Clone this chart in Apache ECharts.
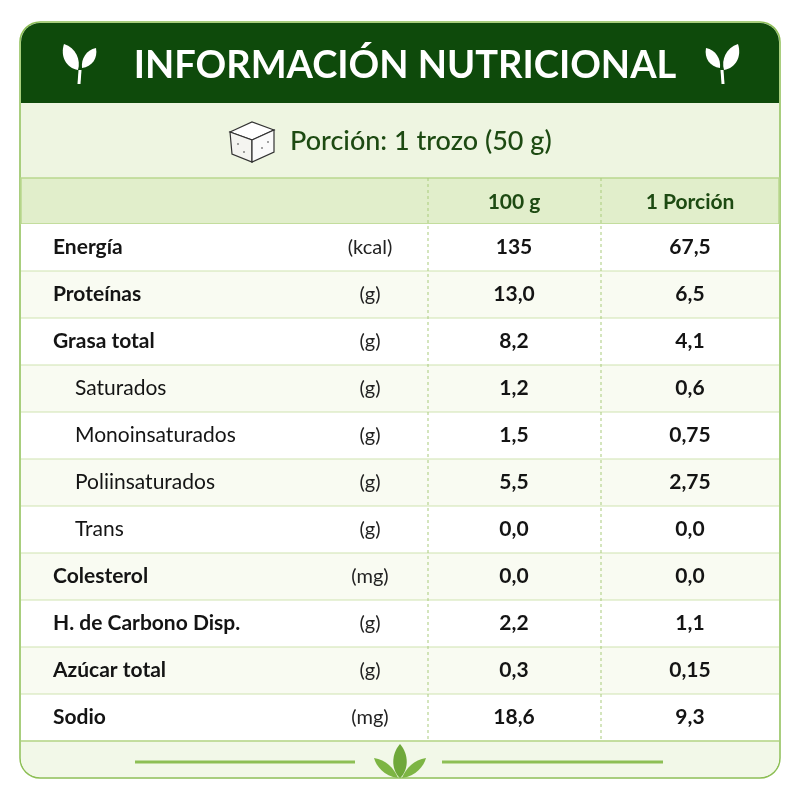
<!DOCTYPE html>
<html><head><meta charset="utf-8">
<script src="https://cdn.jsdelivr.net/npm/echarts@6/dist/echarts.min.js"></script>
<style>html,body{margin:0;background:#fff}#c{width:800px;height:800px}</style>
</head><body><div id="c"></div>
<script>
const nutrients = ['Energía','Proteínas','Grasa total','Saturados','Monoinsaturados','Poliinsaturados','Trans','Colesterol','H. de Carbono Disp.','Azúcar total','Sodio'];
const units = ['(kcal)','(g)','(g)','(g)','(g)','(g)','(g)','(mg)','(g)','(g)','(mg)'];
const per100 = ['135','13,0','8,2','1,2','1,5','5,5','0,0','0,0','2,2','0,3','18,6'];
const perPortion = ['67,5','6,5','4,1','0,6','0,75','2,75','0,0','0,0','1,1','0,15','9,3'];
const isSub = [0,0,0,1,1,1,1,0,0,0,0];
const colHeaders = ['100 g','1 Porción'];
const title = 'INFORMACIÓN NUTRICIONAL';
const portion = 'Porción: 1 trozo (50 g)';

const F = 'Lato, "Open Sans", sans-serif';
const chart = echarts.init(document.getElementById('c'));
function sprout(x,y,flip){
  const s = flip?-1:1;
  return {type:'group',x:x,y:y,scaleX:s,children:[
    {type:'path',shape:{pathData:'M0,0 C-12,-2 -18,-14 -14,-26 C-2,-22 3,-10 0,0 Z'},style:{fill:'#fff'},x:-2,y:-2},
    {type:'path',shape:{pathData:'M0,0 C10,-1 16,-10 14,-20 C4,-18 -1,-9 0,0 Z'},style:{fill:'#fff'},x:2,y:-4},
    {type:'line',shape:{x1:0,y1:-2,x2:-1,y2:12},style:{stroke:'#fff',lineWidth:3}}
  ]};
}
chart.setOption({
  animation:false,
  grid:{left:20,right:20,top:224,bottom:59},
  xAxis:{type:'value',min:0,max:760,show:false},
  yAxis:{type:'category',data:nutrients,inverse:true,show:false},
  graphic:[
    {type:'rect',shape:{x:20,y:22,width:760,height:756,r:20},style:{fill:'#fbfdf6',stroke:'#8dbf55',lineWidth:1.5},z:-10},
    {type:'rect',shape:{x:21,y:23,width:758,height:80,r:[19,19,0,0]},style:{fill:'#0e4a0b'},z:-9},
    {type:'rect',shape:{x:21,y:103,width:758,height:75},style:{fill:'#eef5e1'},z:-9},
    {type:'rect',shape:{x:21,y:178,width:758,height:46},style:{fill:'#e1eecb',stroke:'#b9d78e',lineWidth:1.5},z:-9},
    {type:'rect',shape:{x:21,y:741,width:758,height:36,r:[0,0,19,19]},style:{fill:'#f2f8e8'},z:-9},
    {type:'line',shape:{x1:21,y1:741,x2:779,y2:741},style:{stroke:'#b9d78e',lineWidth:1.5},z:5},
    {type:'text',style:{text:title,x:405,y:66,align:'center',verticalAlign:'middle',font:'bold 38px '+F,fill:'#fff'}},
    {type:'group',x:230,y:122,children:[
      {type:'polygon',shape:{points:[[0,10],[22,0],[44,8],[22,18]]},style:{fill:'#fff',stroke:'#333',lineWidth:1.2}},
      {type:'polygon',shape:{points:[[0,10],[22,18],[22,40],[2,32]]},style:{fill:'#f4f4f0',stroke:'#333',lineWidth:1.2}},
      {type:'polygon',shape:{points:[[22,18],[44,8],[44,30],[22,40]]},style:{fill:'#fafafa',stroke:'#333',lineWidth:1.2}},
      {type:'circle',shape:{cx:8,cy:22,r:0.8},style:{fill:'#333'}},
      {type:'circle',shape:{cx:14,cy:30,r:0.8},style:{fill:'#333'}},
      {type:'circle',shape:{cx:32,cy:26,r:0.8},style:{fill:'#333'}},
      {type:'circle',shape:{cx:38,cy:20,r:0.8},style:{fill:'#333'}}
    ]},
    {type:'text',style:{text:portion,x:290,y:141,verticalAlign:'middle',font:'500 27px '+F,fill:'#1d4a12'}},
    {type:'line',shape:{x1:428,y1:178,x2:428,y2:741},style:{stroke:'#a9cc7c',lineWidth:1,lineDash:[3,3]},z:5},
    {type:'line',shape:{x1:601,y1:178,x2:601,y2:741},style:{stroke:'#a9cc7c',lineWidth:1,lineDash:[3,3]},z:5},
    {type:'text',style:{text:colHeaders[0],x:514,y:202,align:'center',verticalAlign:'middle',font:'bold 21px '+F,fill:'#1d4a12'}},
    {type:'text',style:{text:colHeaders[1],x:690,y:202,align:'center',verticalAlign:'middle',font:'bold 21px '+F,fill:'#1d4a12'}},
    {type:'line',shape:{x1:135,y1:762,x2:355,y2:762},style:{stroke:'#8dbf55',lineWidth:3}},
    {type:'line',shape:{x1:442,y1:762,x2:663,y2:762},style:{stroke:'#8dbf55',lineWidth:3}}
  ],
  series:[{
    type:'custom',
    data:nutrients.map((n,i)=>[0,i]),
    renderItem:function(params,api){
      const i=params.dataIndex;
      const c=api.coord([0,i]);
      const h=api.size([0,1])[1];
      const top=c[1]-h/2, y=c[1];
      const bold = !isSub[i];
      const vf='bold 21px '+F;
      return {type:'group',children:[
        {type:'rect',shape:{x:21,y:top,width:758,height:h},style:{fill:i%2?'#f9fbf2':'#ffffff'},z2:0},
        {type:'line',shape:{x1:21,y1:top+h,x2:779,y2:top+h},style:{stroke:'#cfe3b0',lineWidth:1.2},z2:1},
        {type:'text',style:{text:nutrients[i],x:bold?53:75,y:y,verticalAlign:'middle',font:(bold?'bold ':'')+'21px '+F,fill:'#141414'},z2:2},
        {type:'text',style:{text:units[i],x:370,y:y,align:'center',verticalAlign:'middle',font:'20px '+F,fill:'#222'},z2:2},
        {type:'text',style:{text:per100[i],x:514,y:y,align:'center',verticalAlign:'middle',font:vf,fill:'#141414'},z2:2},
        {type:'text',style:{text:perPortion[i],x:690,y:y,align:'center',verticalAlign:'middle',font:vf,fill:'#141414'},z2:2}
      ]};
    },
    z:1
  },{
    type:'custom',
    data:[[0,0]],
    renderItem:function(){
      return {type:'group',children:[
        sprout(80,72,false), sprout(722,72,true),
        {type:'group',x:400,y:778,children:[
          {type:'path',shape:{pathData:'M0,0 C-9,-8 -9,-24 0,-34 C9,-24 9,-8 0,0 Z'},style:{fill:'#6fa83a'}},
          {type:'path',shape:{pathData:'M-2,0 C-16,-2 -24,-12 -26,-20 C-14,-18 -6,-10 -2,0 Z'},style:{fill:'#7db544'}},
          {type:'path',shape:{pathData:'M2,0 C16,-2 24,-12 26,-20 C14,-18 6,-10 2,0 Z'},style:{fill:'#7db544'}}
        ]}
      ]};
    },
    z:10
  }]
});
</script></body></html>
